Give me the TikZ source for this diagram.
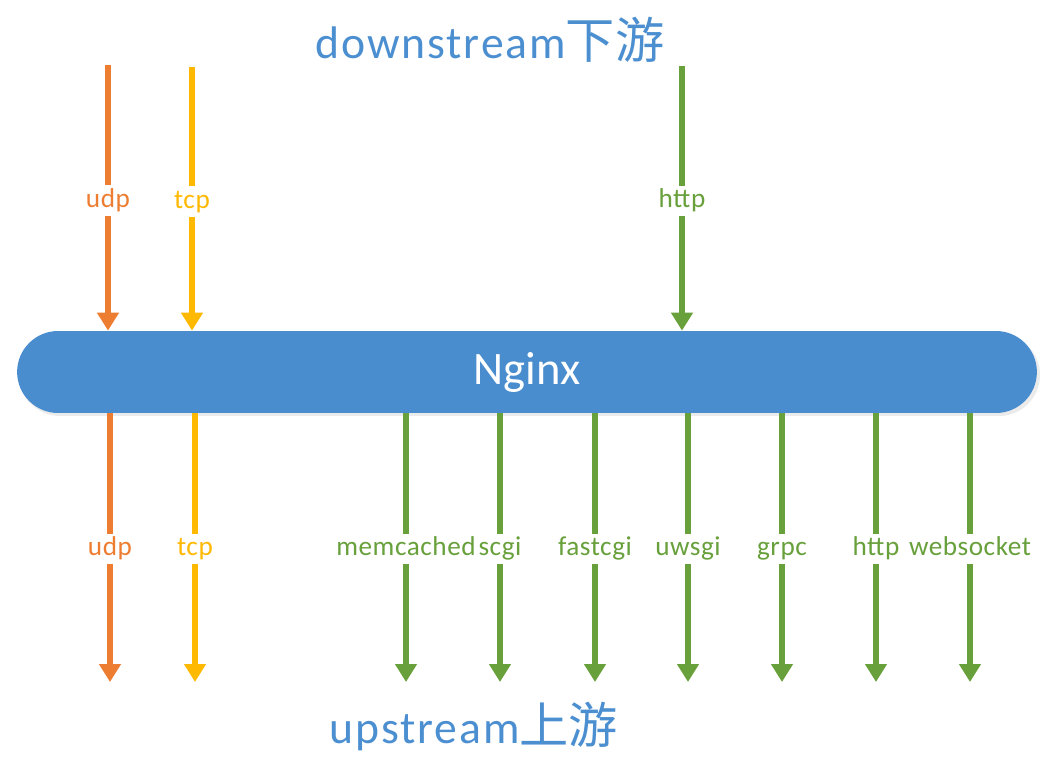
\documentclass[tikz,border=0pt]{standalone}
\usepackage{fontspec}
\setmainfont{Carlito}
\newfontfamily\cjk{Noto Sans CJK SC}
\newfontfamily\titlefont[LetterSpace=4]{Carlito}
\newfontfamily\lblfont[LetterSpace=2]{Carlito}
\usetikzlibrary{arrows.meta}
\definecolor{cOrange}{HTML}{ED7D31}
\definecolor{cYellow}{HTML}{FFB900}
\definecolor{cGreen}{HTML}{68A03C}
\definecolor{cPill}{HTML}{4A8DCF}
\definecolor{cTitle}{HTML}{4C8FD1}
\tikzset{
  flow/.style={line width=0.11cm, -{Triangle[width=0.42cm,length=0.36cm]}},
  lbl/.style={fill=white, inner sep=1.5pt, text height=11pt, text depth=3.5pt, font=\lblfont\fontsize{15.5}{18}\selectfont, text=#1},
  pill/.style={fill=cPill, draw=none, rounded corners=0.82cm, minimum width=20.4cm, minimum height=1.64cm, text=white, font=\fontsize{26.5}{30}\selectfont},
  title/.style={text=cTitle, font=\titlefont\fontsize{26}{30}\selectfont, inner sep=0pt}
}
\begin{document}
\begin{tikzpicture}[x=0.02cm, y=-0.02cm]
\useasboundingbox (0,0) rectangle (1062,759);
% shadow
\fill[black!8, rounded corners=0.82cm] (19,334) rectangle (1040,416);
\node[pill] (nginx) at (527,372) {Nginx};
\node[title] (down) at (490,40) {downstream{\cjk\fontsize{28}{30}\selectfont 下游}};
\node[title] (up) at (474,726) {upstream{\cjk\fontsize{28}{30}\selectfont 上游}};
% top arrows
\coordinate (tu) at (108,65);
\coordinate (tt) at (192,67);
\coordinate (th) at (682,66);
\draw[flow, cOrange] (tu) -- (tu |- nginx.north) node[pos=0.51, lbl=cOrange] {udp};
\draw[flow, cYellow] (tt) -- (tt |- nginx.north) node[pos=0.51, lbl=cYellow] {tcp};
\draw[flow, cGreen] (th) -- (th |- nginx.north) node[pos=0.51, lbl=cGreen] {http};
% bottom arrows
\foreach \x/\t/\c/\n in {110/udp/cOrange/bu, 195/tcp/cYellow/bt, 406/memcached/cGreen/b1, 500/scgi/cGreen/b2, 595/fastcgi/cGreen/b3, 688/uwsgi/cGreen/b4, 782/grpc/cGreen/b5, 876/http/cGreen/b6, 970/websocket/cGreen/b7}{
  \coordinate (\n) at (\x,682);
  \draw[flow, \c] (\n |- nginx.south) -- (\n) node[pos=0.505, lbl=\c] {\t};
}
\end{tikzpicture}
\end{document}
